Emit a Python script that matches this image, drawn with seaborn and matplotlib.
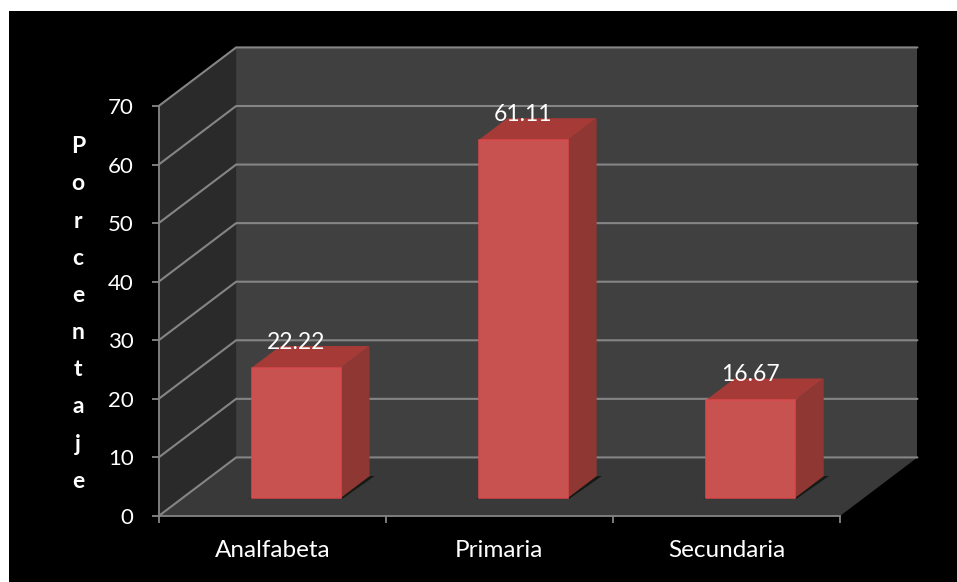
import matplotlib
matplotlib.use('Agg')
import matplotlib.pyplot as plt
import pandas as pd
import seaborn as sns
from matplotlib.patches import Polygon, Rectangle

# datos del grafico
categorias = ['Analfabeta', 'Primaria', 'Secundaria']
porcentajes = [22.22, 61.11, 16.67]
etiquetas = ['22.22', '61.11', '16.67']
ticks_y = [0, 10, 20, 30, 40, 50, 60, 70]
titulo_y = 'Porcentaje'

df = pd.DataFrame({'nivel': categorias, 'porcentaje': porcentajes})

sns.set_theme(style='dark')
plt.rcParams['font.family'] = ['Lato', 'DejaVu Sans']

W, H = 957, 582
fig = plt.figure(figsize=(W / 100, H / 100), dpi=100, facecolor='white')

# fondo negro
fig.patches.append(Rectangle((9 / W, 0), (W - 9) / W, (H - 11) / H, transform=fig.transFigure,
                             facecolor='black', edgecolor='none', zorder=-5))

# plano frontal del grafico en pixeles
x0, x1, y0, y70 = 158.7, 840, 516, 106
ax = fig.add_axes([x0 / W, 1 - y0 / H, (x1 - x0) / W, (y0 - y70) / H])
ax.patch.set_visible(False)

# profundidad oblicua: fondo = 1 -> 0.341 categorias a la derecha y 10 unidades arriba
DX, DY = 0.341, 10
P_FRENTE, P_FONDO = 0.31, 0.68
ANCHO = 0.393


def proy(x, y, p):
    return (x + p * DX, y + p * DY)


sns.barplot(data=df, x='nivel', y='porcentaje', order=categorias, width=ANCHO,
            color='#c8524f', saturation=1, edgecolor='#da4a4c', linewidth=1.1, ax=ax, zorder=6)
ax.set_xlim(-0.5, 2.5)
ax.set_ylim(0, 70)
barras = [p for p in ax.patches if isinstance(p, Rectangle)]

xa, xb = -0.5, 2.5
# paredes y piso
ax.add_patch(Polygon([proy(xa, 0, 1), proy(xb, 0, 1), proy(xb, 70, 1), proy(xa, 70, 1)],
                     fc='#404040', ec='none', zorder=1, clip_on=False))
ax.add_patch(Polygon([proy(xa, 0, 0), proy(xa, 0, 1), proy(xa, 70, 1), proy(xa, 70, 0)],
                     fc='#2a2a2a', ec='none', zorder=1, clip_on=False))
ax.add_patch(Polygon([proy(xa, 0, 0), proy(xb, 0, 0), proy(xb, 0, 1), proy(xa, 0, 1)],
                     fc='#393939', ec='none', zorder=1, clip_on=False))

# lineas de la reticula
for t in ticks_y:
    px, py = zip(proy(xa, t, 0), proy(xa, t, 1), proy(xb, t, 1))
    ax.plot(px, py, color='#858585', lw=1.5, zorder=2, clip_on=False, solid_joinstyle='miter')

# caras laterales de las barras
for i, barra in enumerate(barras):
    x = barra.get_x()
    w = barra.get_width()
    h = barra.get_height()
    # sombra en el piso
    ax.add_patch(Polygon([proy(x - 0.012, 0, P_FRENTE - 0.012), proy(x + w + 0.012, 0, P_FRENTE - 0.012),
                          proy(x + w + 0.022, 0, P_FONDO + 0.005), proy(x + w, 0, P_FONDO)],
                         fc='#141a16', ec='none', zorder=3, clip_on=False))
    ax.add_patch(Polygon([proy(x + w, 0, P_FRENTE), proy(x + w, 0, P_FONDO),
                          proy(x + w, h, P_FONDO), proy(x + w, h, P_FRENTE)],
                         fc='#8e3733', ec='none', zorder=4, clip_on=False))
    ax.add_patch(Polygon([proy(x, h, P_FRENTE), proy(x + w, h, P_FRENTE),
                          proy(x + w, h, P_FONDO), proy(x, h, P_FONDO)],
                         fc='#a63a36', ec='none', zorder=4, clip_on=False))
    # la cara frontal se mueve a su profundidad
    barra.set_x(x + P_FRENTE * DX)
    barra.set_y(P_FRENTE * DY)
    barra.set_clip_on(False)
    ax.annotate(etiquetas[i], xy=proy(x + w / 2, h, P_FRENTE), xytext=(0, 18.5),
                textcoords='offset points', ha='center', va='center', color='white',
                fontsize=16.5, zorder=8, annotation_clip=False)

# ejes
for lado in ['top', 'right']:
    ax.spines[lado].set_visible(False)
for lado in ['left', 'bottom']:
    ax.spines[lado].set_color('#858585')
    ax.spines[lado].set_linewidth(1.3)
    ax.spines[lado].set_zorder(5)
ax.grid(False)
ax.set_yticks(ticks_y)
ax.set_xticks([-0.5, 0.5, 1.5, 2.5])
ax.set_xticklabels([])
ax.set_xticks([0, 1, 2], labels=categorias, minor=True)
ax.tick_params(axis='both', which='major', length=5, width=1.3, color='#858585', left=True, bottom=True,
               labelcolor='white', labelsize=16, pad=13)
ax.tick_params(axis='x', which='minor', length=0, labelcolor='white', labelsize=17.5, pad=17, bottom=False)
ax.set_xlabel('')
ax.set_ylabel('\n'.join(titulo_y), rotation=0, color='white', fontweight='bold', fontsize=16.5,
              linespacing=1.95, va='center', ha='center')
ax.yaxis.set_label_coords((78 - x0) / (x1 - x0), (y0 - 314) / (y0 - y70))

fig.savefig('out.png', dpi=100, facecolor='white')
